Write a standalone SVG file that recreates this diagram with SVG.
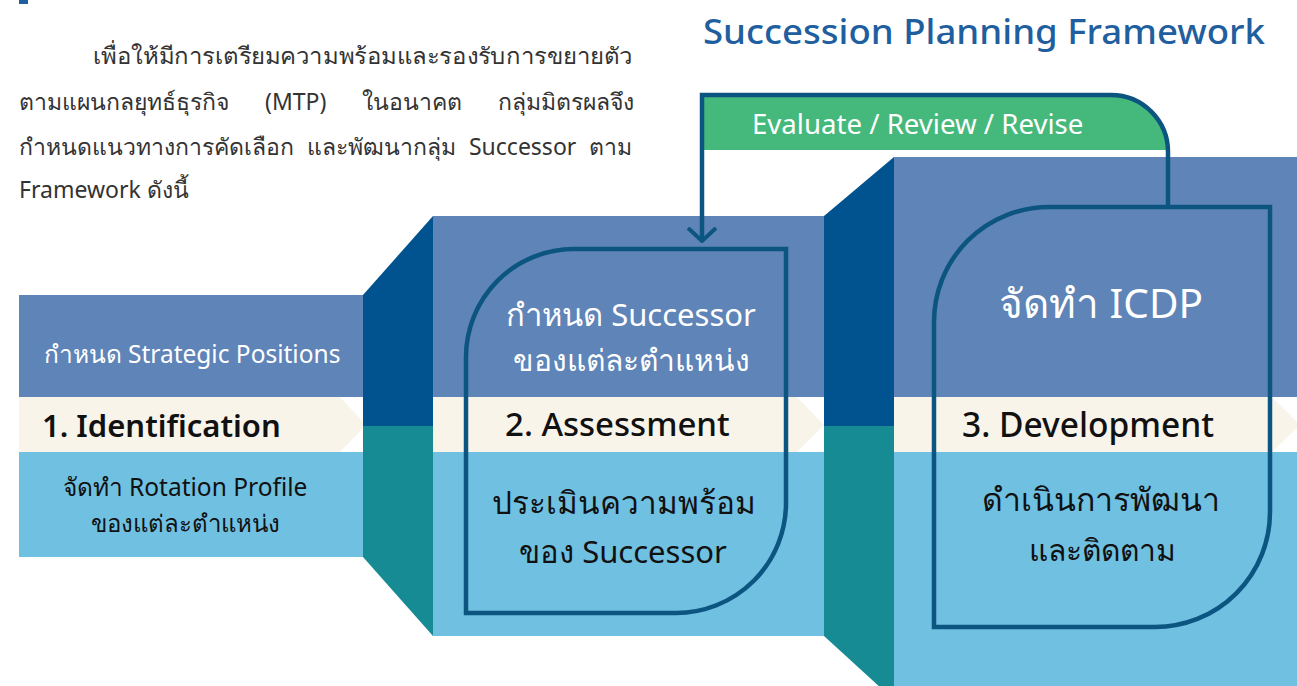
<svg xmlns="http://www.w3.org/2000/svg" width="1297" height="686" viewBox="0 0 1297 686">
<defs>
<style>
.up{fill:#5f84b7}
.dk{fill:#01538f}
.tl{fill:#168b93}
.lb{fill:#6fc0e1}
.cr{fill:#f8f4ea}
.t{font-family:"Noto Sans","Open Sans",sans-serif}
.w{fill:#ffffff}
.b{fill:#111111}
.para{font-family:"Noto Sans","Open Sans",sans-serif;font-size:23px;fill:#333333}
.box{fill:none;stroke:#0b5580;stroke-width:4.5}
.conn{fill:none;stroke:#0b5580;stroke-width:4.5}
</style>
<marker id="chev" viewBox="0 0 16 30" refX="14" refY="15" markerWidth="16" markerHeight="30" markerUnits="userSpaceOnUse" orient="auto">
<polyline points="1,1 14,15 1,29" fill="none" stroke="#0b5580" stroke-width="4"/>
</marker>
</defs>
<rect width="1297" height="686" fill="#ffffff"/>
<rect x="19" y="0" width="9" height="4" fill="#1f5fa0"/>
<text x="703" y="44" class="t" font-size="35" fill="#1f5fa0" font-weight="500" textLength="562" lengthAdjust="spacingAndGlyphs">Succession Planning Framework</text>
<g id="paragraph">
<text x="93" y="64" class="para" textLength="540" lengthAdjust="spacingAndGlyphs">เพื่อให้มีการเตรียมความพร้อมและรองรับการขยายตัว</text>
<text x="19" y="110" class="para" word-spacing="30">ตามแผนกลยุทธ์ธุรกิจ (MTP) ในอนาคต กลุ่มมิตรผลจึง</text>
<text x="19" y="155" class="para" word-spacing="7">กำหนดแนวทางการคัดเลือก และพัฒนากลุ่ม Successor ตาม</text>
<text x="19" y="198" class="para">Framework ดังนี้</text>
</g>
<g id="banner">
<path d="M702,95 H1111 A55 55 0 0 1 1166,150 H702 Z" fill="#45b97c"/>
<text x="752" y="134" class="t w" font-size="27.6">Evaluate / Review / Revise</text>
</g>
<g id="stage1">
<rect class="up" x="19" y="295" width="345" height="102"/>
<rect class="lb" x="19" y="452" width="345" height="105"/>
<polygon class="cr" points="19,397 340,397 366,425 340,452 19,452"/>
<text x="192" y="363" text-anchor="middle" class="t w" font-size="24.5">กำหนด Strategic Positions</text>
<text x="42" y="437" class="t b" font-size="31" font-weight="600">1. Identification</text>
<text x="185" y="496" text-anchor="middle" class="t b" font-size="24.5">จัดทำ Rotation Profile</text>
<text x="185" y="532" text-anchor="middle" class="t b" font-size="24">ของแต่ละตำแหน่ง</text>
</g>
<g id="link12">
<polygon class="dk" points="363,295 433,216 433,426 363,426"/>
<polygon class="tl" points="363,426 433,426 433,636 363,557"/>
</g>
<g id="stage2">
<rect class="up" x="433" y="216" width="391" height="181"/>
<rect class="lb" x="433" y="452" width="391" height="184"/>
<polygon class="cr" points="433,397 797,397 824,425 797,452 433,452"/>
<path class="box" d="M466,613 V357 A108 108 0 0 1 574,249 H786 V503 A110 110 0 0 1 676,613 Z"/>
<text x="631" y="326" text-anchor="middle" class="t w" font-size="31">กำหนด Successor</text>
<text x="631" y="371" text-anchor="middle" class="t w" font-size="30">ของแต่ละตำแหน่ง</text>
<text x="505" y="436" class="t b" font-size="33" font-weight="500">2. Assessment</text>
<text x="624" y="514" text-anchor="middle" class="t b" font-size="31.5">ประเมินความพร้อม</text>
<text x="623" y="563" text-anchor="middle" class="t b" font-size="31">ของ Successor</text>
</g>
<g id="link23">
<polygon class="dk" points="824,216 894,157 894,426 824,426"/>
<polygon class="tl" points="824,426 894,426 894,700 824,636"/>
</g>
<g id="stage3">
<rect class="up" x="894" y="157" width="403" height="240"/>
<rect class="lb" x="894" y="452" width="403" height="234"/>
<polygon class="cr" points="894,397 1272,397 1300,425 1272,452 894,452"/>
<path class="box" d="M934,627 V322 A115 115 0 0 1 1049,207 H1270 V512 A115 115 0 0 1 1155,627 Z"/>
<text x="1101" y="318" text-anchor="middle" class="t w" font-size="40.5">จัดทำ ICDP</text>
<text x="962" y="437" class="t b" font-size="33.5" font-weight="500">3. Development</text>
<text x="1101" y="511" text-anchor="middle" class="t b" font-size="32">ดำเนินการพัฒนา</text>
<text x="1102" y="561" text-anchor="middle" class="t b" font-size="30">และติดตาม</text>
</g>
<g id="connectors">
<path class="conn" d="M1168,207 V152 A57 57 0 0 0 1111,95 H702 V241" marker-end="url(#chev)"/>
</g>
</svg>
